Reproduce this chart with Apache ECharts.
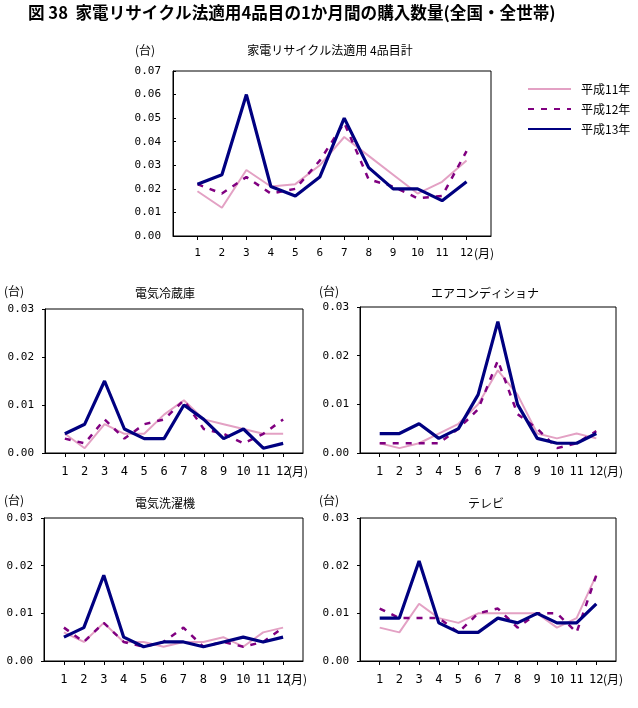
<!DOCTYPE html>
<html><head><meta charset="utf-8">
<script src="https://cdn.jsdelivr.net/npm/echarts@6/dist/echarts.min.js"></script>
<style>html,body{margin:0;padding:0;background:#fff}#c{width:638px;height:708px}</style>
</head><body><div id="c"></div>
<script>
// ---- data ----
const months = [1,2,3,4,5,6,7,8,9,10,11,12];
const seriesNames = ['平成11年','平成12年','平成13年'];
const chartTitles = ['家電リサイクル法適用 4品目計','電気冷蔵庫','エアコンディショナ','電気洗濯機','テレビ'];

const totalH11 = [0.019,0.012,0.028,0.021,0.022,0.030,0.042,0.034,0.026,0.018,0.023,0.032];
const totalH12 = [0.022,0.018,0.025,0.018,0.020,0.032,0.048,0.024,0.021,0.016,0.017,0.036];
const totalH13 = [0.022,0.026,0.060,0.021,0.017,0.025,0.050,0.029,0.020,0.020,0.015,0.023];

const fridgeH11 = [0.004,0.001,0.006,0.004,0.004,0.008,0.011,0.007,0.006,0.005,0.004,0.004];
const fridgeH12 = [0.003,0.002,0.007,0.003,0.006,0.007,0.011,0.005,0.004,0.002,0.004,0.007];
const fridgeH13 = [0.004,0.006,0.015,0.005,0.003,0.003,0.010,0.007,0.003,0.005,0.001,0.002];

const acH11 = [0.002,0.001,0.002,0.004,0.006,0.010,0.017,0.012,0.004,0.003,0.004,0.003];
const acH12 = [0.002,0.002,0.002,0.002,0.005,0.009,0.019,0.008,0.005,0.001,0.002,0.0045];
const acH13 = [0.004,0.004,0.006,0.003,0.005,0.012,0.027,0.010,0.003,0.002,0.002,0.004];

const washH11 = [0.006,0.004,0.008,0.004,0.004,0.003,0.004,0.004,0.005,0.003,0.006,0.007];
const washH12 = [0.007,0.004,0.008,0.004,0.003,0.004,0.007,0.003,0.004,0.003,0.004,0.007];
const washH13 = [0.005,0.007,0.018,0.005,0.003,0.004,0.004,0.003,0.004,0.005,0.004,0.005];

const tvH11 = [0.007,0.006,0.012,0.009,0.008,0.010,0.010,0.010,0.010,0.007,0.009,0.018];
const tvH12 = [0.011,0.009,0.009,0.009,0.006,0.010,0.011,0.007,0.010,0.010,0.006,0.018];
const tvH13 = [0.009,0.009,0.021,0.008,0.006,0.006,0.009,0.008,0.010,0.008,0.008,0.012];

const yTicksTop = [0,0.01,0.02,0.03,0.04,0.05,0.06,0.07];
const yTicksSmall = [0,0.01,0.02,0.03];

// ---- layout ----
const grids = [
  {left:173, top:71, width:318, height:165},
  {left:45, top:309, width:258, height:144},
  {left:360, top:307, width:256, height:146},
  {left:44, top:518, width:259, height:143},
  {left:360, top:518, width:256, height:143}
];
const dataSets = [
  [totalH11,totalH12,totalH13],
  [fridgeH11,fridgeH12,fridgeH13],
  [acH11,acH12,acH13],
  [washH11,washH12,washH13],
  [tvH11,tvH12,tvH13]
];
const colors = ['#E3A1C4','#800080','#000080'];
const lineStyles = [
  {width:2, type:'solid'},
  {width:2.5, type:[6,7]},
  {width:3.2, type:'solid'}
];
const cjk = '"Noto Sans CJK JP", sans-serif';
const mono = '"DejaVu Sans Mono", monospace';

const option = {
  animation:false,
  backgroundColor:'#fff',
  grid: grids.map(g => Object.assign({show:true, borderColor:'#000', borderWidth:1, backgroundColor:'transparent'}, g)),
  xAxis: grids.map((g,i) => ({
    type:'value', gridIndex:i, min:0, max:13, interval:1,
    axisLine:{show:true, lineStyle:{color:'#000', width:1}},
    axisTick:{show:true, length:4, lineStyle:{color:'#000'}, customValues: months},
    axisLabel:{customValues: months, color:'#000', fontFamily:mono, fontSize: i===0 ? 11 : 12, margin: i===0 ? 12 : 13},
    splitLine:{show:false}
  })),
  yAxis: grids.map((g,i) => {
    const ticks = i===0 ? yTicksTop : yTicksSmall;
    return {
      type:'value', gridIndex:i, min:0, max:ticks[ticks.length-1], interval:0.01,
      axisLine:{show:true, lineStyle:{color:'#000', width:1}},
      axisTick:{show:true, inside: i===0, length:3, lineStyle:{color:'#000'}},
      axisLabel:{color:'#000', fontFamily:mono, fontSize:11, margin: i===0 ? 12 : 11, formatter: v => v.toFixed(2)},
      splitLine:{show:false}
    };
  }),
  legend:{
    orient:'vertical', left:527, top:83, padding:0, itemWidth:43, itemHeight:12, itemGap:8,
    data: seriesNames,
    itemStyle:{color:'rgba(0,0,0,0)', borderColor:'rgba(0,0,0,0)', borderWidth:0, opacity:0},
    textStyle:{fontFamily:cjk, fontSize:12, color:'#000', padding:[0,0,0,5]},
    selectedMode:false
  },
  series: [],
  graphic: []
};

dataSets.forEach((set, gi) => {
  set.forEach((vals, si) => {
    option.series.push({
      type:'line', name: seriesNames[si], xAxisIndex:gi, yAxisIndex:gi,
      data: months.map((m,k) => [m, vals[k]]),
      symbol:'none', color: colors[si],
      lineStyle: Object.assign({color: colors[si]}, lineStyles[si]),
      z: 2 + si
    });
  });
});

function txt(text, x, y, size, align, weight){
  return {type:'text', x:x, y:y, style:{text:text, fill:'#000', font:(weight||'normal')+' '+size+'px '+cjk,
    align:align||'left', textAlign:align||'left', verticalAlign:'middle', textVerticalAlign:'middle'}};
}
option.graphic = [
  txt('図 38  家電リサイクル法適用4品目の1か月間の購入数量(全国・全世帯)', 28, 13, 16.6, 'left', 'bold'),
  txt(chartTitles[0], 330, 50, 12, 'center'),
  txt(chartTitles[1], 165, 293, 12, 'center'),
  txt(chartTitles[2], 485, 293, 12, 'center'),
  txt(chartTitles[3], 165, 503, 12, 'center'),
  txt(chartTitles[4], 486, 503, 12, 'center'),
  txt('(台)', 135, 50, 12, 'left'),
  txt('(台)', 4, 291, 12, 'left'),
  txt('(台)', 319, 291, 12, 'left'),
  txt('(台)', 4, 500, 12, 'left'),
  txt('(台)', 319, 500, 12, 'left'),
  txt('(月)', 474, 253, 12, 'left'),
  txt('(月)', 288, 471, 12, 'left'),
  txt('(月)', 603, 471, 12, 'left'),
  txt('(月)', 287, 679, 12, 'left'),
  txt('(月)', 603, 679, 12, 'left')
];

const chart = echarts.init(document.getElementById('c'), null, {renderer:'canvas'});
chart.setOption(option);
</script>
</body></html>
